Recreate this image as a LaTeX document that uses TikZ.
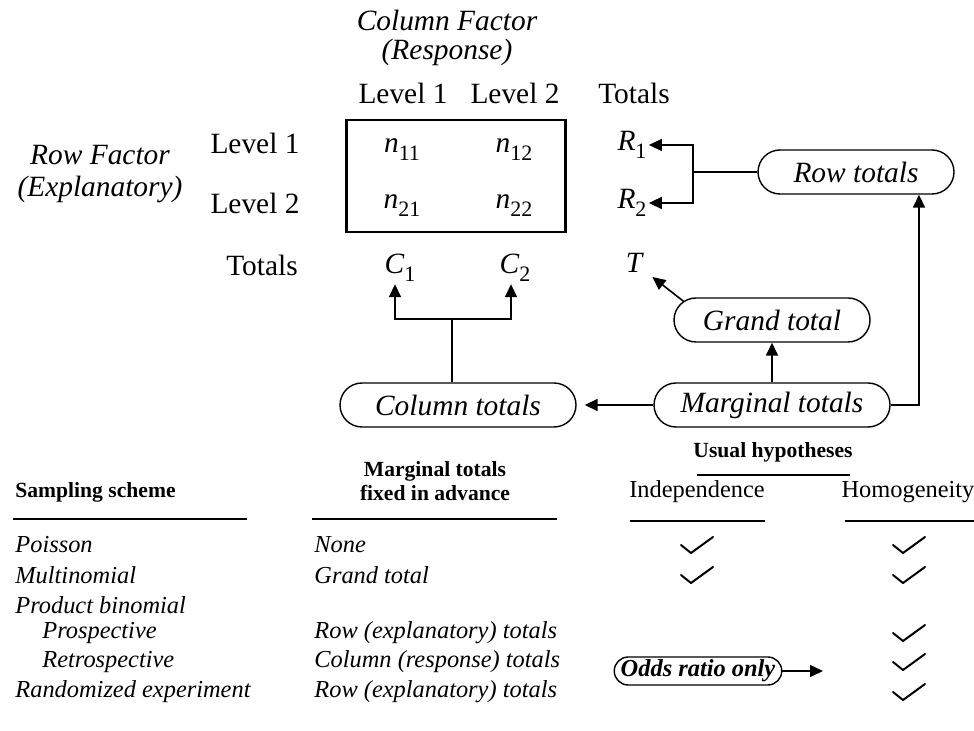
\documentclass[tikz,border=0pt]{standalone}
\usepackage{fontspec}
\setmainfont{Liberation Serif}
\usetikzlibrary{positioning,arrows.meta,shapes.misc}
\newcommand{\lowsub}[1]{\raisebox{-0.6ex}{\fontsize{11}{11}\selectfont #1}}

\begin{document}
\begin{tikzpicture}[x=0.5pt, y=-0.5pt,
  every node/.style={font=\fontsize{14.7}{16}\selectfont, inner sep=1pt},
  pill/.style={rounded rectangle, draw, line width=0.7pt, minimum height=22pt, font=\fontsize{14.7}{16}\selectfont\itshape},
  line/.style={line width=0.8pt},
  arr/.style={line width=0.8pt, -{Triangle[length=6.5pt,width=6pt]}},
  tab/.style={anchor=west, font=\fontsize{12.2}{14}\selectfont\itshape},
  hd/.style={font=\fontsize{10.8}{12}\selectfont\bfseries, align=center},
  rule/.style={line width=0.6pt},
  chk/.pic={\draw[line width=1pt, line cap=round, line join=round] (-16,0) -- (-6,8) -- (16,-8);}
]
\useasboundingbox (0,0) rectangle (974,731);

% Tabla 2x2
\node[font=\fontsize{14.7}{16}\selectfont\itshape] (colf) at (447,20) {Column Factor};
\node[font=\fontsize{14.7}{16}\selectfont\itshape] (resp) at (447,52) {(Response)};
\node (cl1) at (403,93) {Level 1};
\node (cl2) at (515,93) {Level 2};
\node (ctot) at (634,93) {Totals};
\node[font=\fontsize{14.7}{16}\selectfont\itshape, align=center] (rowf) at (100,174) {Row Factor\\(Explanatory)};
\node (rl1) at (255,143) {Level 1};
\node (rl2) at (255,203) {Level 2};
\node (rtot) at (262,265) {Totals};
\node[draw, line width=1.2pt, minimum width=109.5pt, minimum height=56pt] (ctab) at (456,176) {};
\node (n11) at (402,150) {\textit{n}\lowsub{11}};
\node (n12) at (514,150) {\textit{n}\lowsub{12}};
\node (n21) at (402,206) {\textit{n}\lowsub{21}};
\node (n22) at (514,206) {\textit{n}\lowsub{22}};
\node (R1) at (632,145) {\textit{R}\lowsub{1}};
\node (R2) at (632,203) {\textit{R}\lowsub{2}};
\node (C1) at (400,268) {\textit{C}\lowsub{1}};
\node (C2) at (515,268) {\textit{C}\lowsub{2}};
\node (T) at (635,263) {\textit{T}};

% Totales
\node[pill, minimum width=100pt] (rowtot) at (856,172) {Row totals};
\node[pill, minimum width=100pt] (grand) at (772,320) {Grand total};
\node[pill, minimum width=120pt] (margtot) at (772,405) {Marginal totals};
\node[pill, minimum width=120pt] (coltot) at (458,405) {Column totals};
\coordinate (rbar) at (693,170);
\coordinate (cbar) at (452,319);

\draw[line] (rowtot.west) -- (rowtot.west -| rbar);
\draw[arr] (rbar) |- (R1.east);
\draw[arr] (rbar) |- (R2.east);
\draw[line] (coltot.north -| cbar) -- (cbar);
\draw[arr] (cbar) -| ([xshift=-2.5pt]C1.south);
\draw[arr] (cbar) -| ([xshift=-2pt]C2.south);
\draw[arr] (margtot.north) -- (grand.south);
\draw[arr] (grand.168) -- ([xshift=3pt,yshift=-1pt]T.south east);
\draw[arr] (margtot.east) -| ([xshift=31.5pt]rowtot.south);
\draw[arr, shorten >=4pt] (margtot.west) -- (coltot.east);

% Encabezados
\node[hd] (hyp) at (773,452) {Usual hypotheses};
\draw[rule] (697,475) -- (850,475);
\node[hd] (fixd) at (435,481) {Marginal totals\\fixed in advance};
\draw[rule] (312,519) -- (557,519);
\node[hd, anchor=west] (samp) at (13,492) {Sampling scheme};
\draw[rule] (13,519) -- (247,519);
\node[font=\fontsize{12.2}{14}\selectfont] (indep) at (697,492) {Independence};
\draw[rule] (630,521) -- (765,521);
\node[font=\fontsize{12.2}{14}\selectfont] (homog) at (908,492) {Homogeneity};
\draw[rule] (845,521) -- (974,521);

% Filas
\foreach \y/\x/\name/\fixed in {545/13/Poisson/None, 575/13/Multinomial/Grand total,
  605/13/Product binomial/, 633/40/Prospective/Row (explanatory) totals,
  662/40/Retrospective/Column (response) totals, 692/13/Randomized experiment/Row (explanatory) totals} {
  \node[tab] (s\y) at (\x,\y) {\name};
  \node[tab] (f\y) at (312,\y) {\fixed};
}
\foreach \y in {545,575} \pic at (697,\y) {chk};
\foreach \y in {545,575,633,662,692} \pic at (909,\y) {chk};

% Odds ratio
\node[pill, minimum width=80pt, minimum height=14pt, inner sep=0.5pt, font=\fontsize{12.2}{14}\selectfont\itshape\bfseries] (odds) at (698,671) {Odds ratio only};
\coordinate (oddsend) at (823,671);
\draw[arr] (odds.east) -- (oddsend);
\end{tikzpicture}
\end{document}
